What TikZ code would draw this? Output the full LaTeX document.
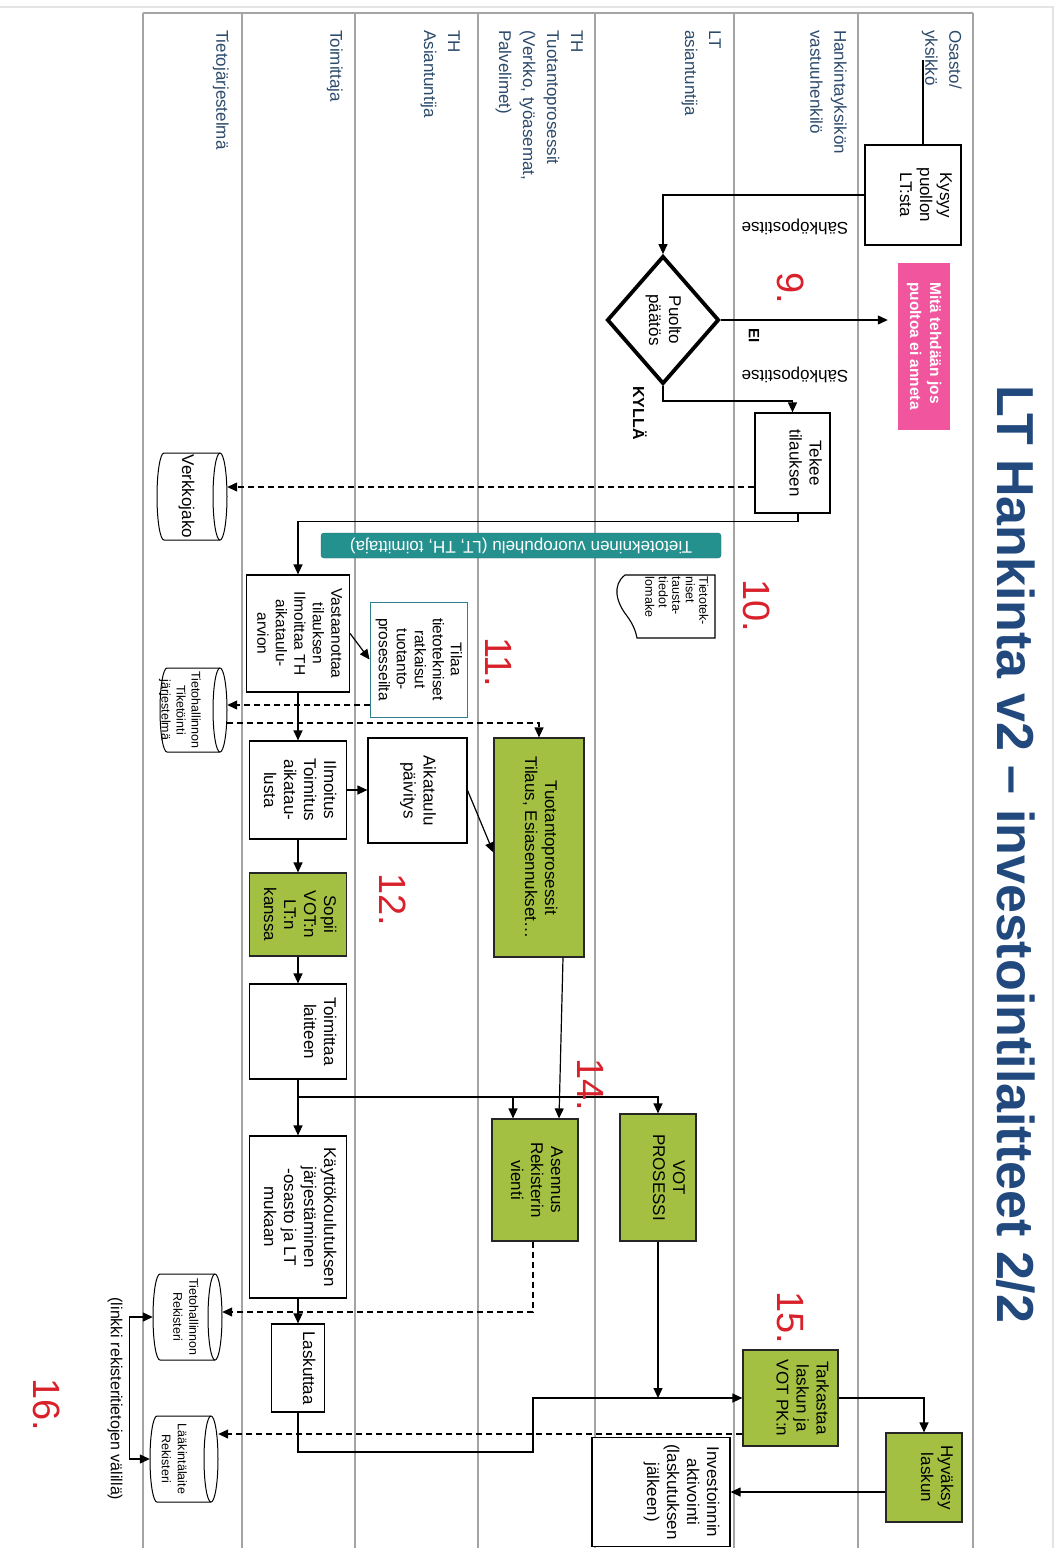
\documentclass[tikz,border=0pt]{standalone}
\usepackage{fontspec}
\setmainfont{Liberation Sans}
\usepackage{graphicx}
\usetikzlibrary{arrows.meta,shapes.geometric}

\definecolor{lanegray}{HTML}{A4A4A4}
\definecolor{framegray}{HTML}{E4E4E4}
\definecolor{lanetext}{HTML}{2C4A6B}
\definecolor{titleblue}{HTML}{21497E}
\definecolor{numred}{HTML}{D9212B}
\definecolor{vgreen}{HTML}{A3C043}
\definecolor{hotpink}{HTML}{F0559E}
\definecolor{tealbar}{HTML}{25918F}
\definecolor{tealedge}{HTML}{1C6E6B}
\definecolor{tealline}{HTML}{2E808E}

% rotated (reading downwards) multi-line text, optionally shifted sideways
\newcommand\rtext[2][0]{\makebox[0pt]{\kern#1pt\kern#1pt\rotatebox{-90}{\begin{tabular}{@{}c@{}}#2\end{tabular}}}}
\newcommand\rltext[2][0]{\makebox[0pt]{\kern#1pt\kern#1pt\rotatebox{-90}{\begin{tabular}{@{}l@{}}#2\end{tabular}}}}

% database cylinder lying on its side, end cap on the right
\newcommand\cylnode[6]{%
  \pgfmathsetmacro\cylL{#2-#4/2+7}%
  \pgfmathsetmacro\cylR{#2+#4/2-7}%
  \pgfmathsetmacro\cylT{#3-#5/2}%
  \pgfmathsetmacro\cylB{#3+#5/2}%
  \pgfmathsetmacro\cylRy{#5/2}%
  \filldraw[cylline] (\cylR,\cylT) -- (\cylL,\cylT)
     arc[start angle=90,end angle=270,x radius=7pt,y radius=\cylRy pt]
     -- (\cylR,\cylB)
     arc[start angle=-90,end angle=90,x radius=7pt,y radius=\cylRy pt] -- cycle;
  \draw[cylline] (\cylR,\cylT) arc[start angle=90,end angle=270,x radius=7pt,y radius=\cylRy pt];
  \node[inner sep=0pt,minimum width=#4,minimum height=#5] (#1) at (#2,#3) {#6};
}

\tikzset{
  lane/.style={draw=lanegray,line width=1.5pt},
  lanelbl/.style={rotate=-90,anchor=north west,align=left,inner sep=0pt,
    text=lanetext,font=\fontsize{17}{24}\selectfont},
  box/.style={rectangle,draw=black,fill=white,line width=1.2pt,inner sep=0pt,
    font=\fontsize{17}{20}\selectfont},
  gbox/.style={box,fill=vgreen,draw=black!85},
  cylline/.style={draw=black,fill=white,line width=1pt},
  conn/.style={line width=1.2pt},
  arr/.style={conn,-{Triangle[length=10pt,width=9pt]}},
  dsh/.style={dash pattern=on 6pt off 4pt},
  num/.style={rotate=-90,text=numred,inner sep=0pt,font=\fontsize{38}{38}\selectfont},
  tag/.style={rotate=-90,inner sep=0pt,font=\bfseries\fontsize{15}{15}\selectfont},
}

\begin{document}
\begin{tikzpicture}[x=1pt,y=-1pt]
\useasboundingbox (0,0) rectangle (1063,1548);
\fill[white] (0,0) rectangle (1063,1548);

% outer frame of the page area
\draw[framegray,line width=1.2pt] (0,7) -- (1053,7) -- (1053,1548);

% swimlanes
\draw[lane] (143,13) -- (973,13);
\foreach \x in {143,242,355,478,595,734,858,973}
  \draw[lane] (\x,13) -- (\x,1548);

\node[lanelbl] (l1) at (962,30) {Osasto/\\yksikkö};
\node[lanelbl] (l2) at (847,30) {Hankintayksikön\\vastuuhenkilö};
\node[lanelbl] (l3) at (721,30) {LT\\asiantuntija};
\node[lanelbl] (l4) at (583,30) {TH\\Tuotantoprosessit\\(Verkko, työasemat,\\Palvelimet)};
\node[lanelbl] (l5) at (460,30) {TH\\Asiantuntija};
\node[lanelbl] (l6) at (343,30) {Toimittaja};
\node[lanelbl] (l7) at (229,30) {Tietojärjestelmä};

% title
\node[rotate=-90,anchor=base west,inner sep=0pt,text=titleblue,
      font=\bfseries\fontsize{52}{52}\selectfont] (title) at (997,385)
      {LT Hankinta v2 – investointilaitteet 2/2};

% process steps
\node[box,minimum width=96,minimum height=100] (kysyy) at (913,195) {\rtext[11]{Kysyy\\puollon\\LT:sta}};
\node[diamond,draw=black,fill=white,line width=3.8pt,inner sep=0pt,
      minimum width=112,minimum height=128,font=\fontsize{17}{20}\selectfont] (puolto) at (663,320)
      {\rtext{Puolto\\päätös}};
\node[fill=hotpink,inner sep=0pt,minimum width=52,minimum height=167,text=white,
      font=\bfseries\fontsize{15.5}{20}\selectfont] (pink) at (924,346)
      {\rltext{Mitä tehdään jos\\puoltoa ei anneta}};
\node[box,minimum width=75,minimum height=100] (tekee) at (792.5,463) {\rtext[11]{Tekee\\tilauksen}};

\node[fill=tealbar,draw=tealedge,rounded corners=3pt,inner sep=0pt,
      minimum width=400,minimum height=25,text=white,font=\fontsize{17}{17}\selectfont]
      (dial) at (521,545.5) {\rotatebox{180}{Tietotekninen vuoropuhelu (LT, TH, toimittaja)}};

% background information form
\draw[line width=1.1pt] (715,575) -- (625,575)
   .. controls (612,585) and (616,602) .. (627,616)
   .. controls (633,624) and (636,632) .. (637,638) -- (715,638) -- cycle;
\node[inner sep=0pt,font=\fontsize{12.5}{13.5}\selectfont] (lomake) at (675,601)
   {\rltext{Tietotek-\\niset\\tausta-\\tiedot\\lomake}};

\cylnode{verk}{192}{496.5}{70}{87}{\fontsize{17}{20}\selectfont\rtext[-6]{Verkkojako}}

\node[box,minimum width=103,minimum height=117,font=\fontsize{15.5}{18.5}\selectfont] (vast) at (298,633.5)
   {\rtext{Vastaanottaa\\tilauksen\\Ilmoittaa TH\\aikataulu-\\arvion}};
\node[box,draw=tealline,line width=0.9pt,minimum width=97,minimum height=115,
      font=\fontsize{15.5}{18}\selectfont] (tilaa) at (418.5,659.5)
   {\rtext{Tilaa\\tietotekniset\\ratkaisut\\tuotanto-\\prosesseilta}};

\cylnode{tikth}{193.5}{710}{67}{84}{\fontsize{12.5}{15}\selectfont\rtext[-14]{Tietohallinnon\\Tiketöinti\\järjestelmä}}

\node[box,minimum width=97,minimum height=98] (ilm) at (298,790) {\rtext{Ilmoitus\\Toimitus\\aikatau-\\lusta}};
\node[box,minimum width=99,minimum height=105] (aika) at (417.5,790.5) {\rtext{Aikataulu\\päivitys}};
\node[gbox,minimum width=90,minimum height=219] (tuot) at (539,847.5) {\rtext{Tuotantoprosessit\\Tilaus, Esiasennukset…}};
\node[gbox,minimum width=97,minimum height=83] (sopii) at (298,914.5) {\rtext{Sopii\\VOT:n\\LT:n\\kanssa}};
\node[box,minimum width=97,minimum height=95] (toim) at (298,1031.5) {\rtext[20]{Toimittaa\\laitteen}};
\node[gbox,minimum width=86,minimum height=122] (asen) at (535,1180) {\rtext{Asennus\\Rekisterin\\vienti}};
\node[gbox,minimum width=76,minimum height=127] (vot) at (658,1177.5) {\rtext[9]{VOT\\PROSESSI}};
\node[box,minimum width=97,minimum height=162] (kaytto) at (298,1217) {\rtext{Käyttökoulutuksen\\järjestäminen\\-osasto ja LT\\mukaan}};
\node[box,minimum width=53,minimum height=88] (lask) at (298,1368) {\rtext[9]{Laskuttaa}};
\node[gbox,minimum width=95,minimum height=96] (tark) at (790.5,1398) {\rtext[10]{Tarkastaa\\laskun ja\\VOT PK:n}};
\node[gbox,minimum width=76,minimum height=89] (hyv) at (924,1477.5) {\rtext[11]{Hyväksy\\laskun}};
\node[box,minimum width=138,minimum height=109] (inv) at (661,1492) {\rtext[20]{Investoinnin\\aktivointi\\(laskutuksen\\jälkeen)}};

\cylnode{threk}{187.5}{1317}{69}{86}{\fontsize{12.5}{16}\selectfont\rtext[-3]{Tietohallinnon\\Rekisteri}}
\cylnode{llrek}{184}{1459}{68}{86}{\fontsize{12.5}{16}\selectfont\rtext[-11]{Lääkintälaite\\Rekisteri}}

% connectors
\coordinate (intop) at (923,60);
\draw[conn] (intop) -- (intop |- kysyy.north);
\draw[arr] (kysyy.west) -| (puolto.north);
\draw[arr,shorten >=10pt] (puolto.east) -- (puolto.east -| pink.west);
\draw[arr] (puolto.south) -- ++(0,15) -| (tekee.north);
\draw[arr,dsh] ([yshift=-24pt]tekee.west) -- ([yshift=-24pt]tekee.west -| verk.east);
\draw[arr] ([xshift=5.5pt]tekee.south) -- ++(0,8) -| (vast.north);
\draw[arr] (vast.east) -- (tilaa.west);
\draw[arr,dsh] ([yshift=-45.5pt]tilaa.west) -- ([yshift=-45.5pt]tilaa.west -| tikth.east);
\draw[arr,dsh] ([yshift=-13pt]tikth.east) -| (tuot.north);
\draw[arr] (vast.south) -- (ilm.north);
\draw[arr] (ilm.east) -- (ilm.east -| aika.west);
\draw[arr] (aika.east) -- ([yshift=-5pt]tuot.west);
\draw[arr] (ilm.south) -- (sopii.north);
\draw[arr] (sopii.south) -- (toim.north);
\coordinate (split) at (298,1097);
\coordinate (asenin) at (513,1119);
\draw[conn] (toim.south) -- (split);
\draw[arr] (split) -- (kaytto.north);
\draw[arr] (split) -| (vot.north);
\draw[arr] (split -| asenin) -- (asenin |- asen.north);
\draw[arr] ([xshift=24pt]tuot.south) -- ([xshift=24pt]asen.north);
\draw[arr,dsh] ([xshift=-2pt]asen.south) |- ([yshift=5pt]threk.east);
\draw[arr] (kaytto.south) -- (lask.north);
\coordinate (bend) at (533,1452);
\draw[arr] (lask.south) |- (bend) |- (tark.west);
\draw[arr] (vot.south) -- (vot.south |- tark.west);
\draw[arr] (tark.east) -| (hyv.north);
\draw[arr] (hyv.west |- inv.east) -- (inv.east);
\draw[arr,dsh] ([yshift=-36pt]tark.west) -- ([yshift=-36pt]tark.west -| llrek.east);
\draw[conn,{Triangle[length=10pt,width=9pt]}-{Triangle[length=10pt,width=9pt]}]
   (threk.west) -- ++(-23,0) |- (llrek.west);

% connector labels
\node[rotate=180,inner sep=0pt,font=\fontsize{17}{17}\selectfont] (mail1) at (795,227) {Sähköpostitse};
\node[rotate=180,inner sep=0pt,font=\fontsize{17}{17}\selectfont] (mail2) at (795,375) {Sähköpostitse};
\node[tag] (ei) at (754,336) {EI};
\node[tag,font=\bfseries\fontsize{16}{16}\selectfont] (kylla) at (640,413) {KYLLÄ};

% step numbers
\node[num] (n9) at (791,288) {9.};
\node[num] (n10) at (757,606) {10.};
\node[num] (n11) at (499,662) {11.};
\node[num] (n12) at (393,900) {12.};
\node[num] (n14) at (591,1085) {14.};
\node[num] (n15) at (790,1318) {15.};
\node[num] (n16) at (47,1405) {16.};

\node[rotate=-90,inner sep=0pt,font=\fontsize{16}{16}\selectfont] (linkki) at (115,1399)
   {(linkki rekisteritietojen välillä)};
\end{tikzpicture}
\end{document}
